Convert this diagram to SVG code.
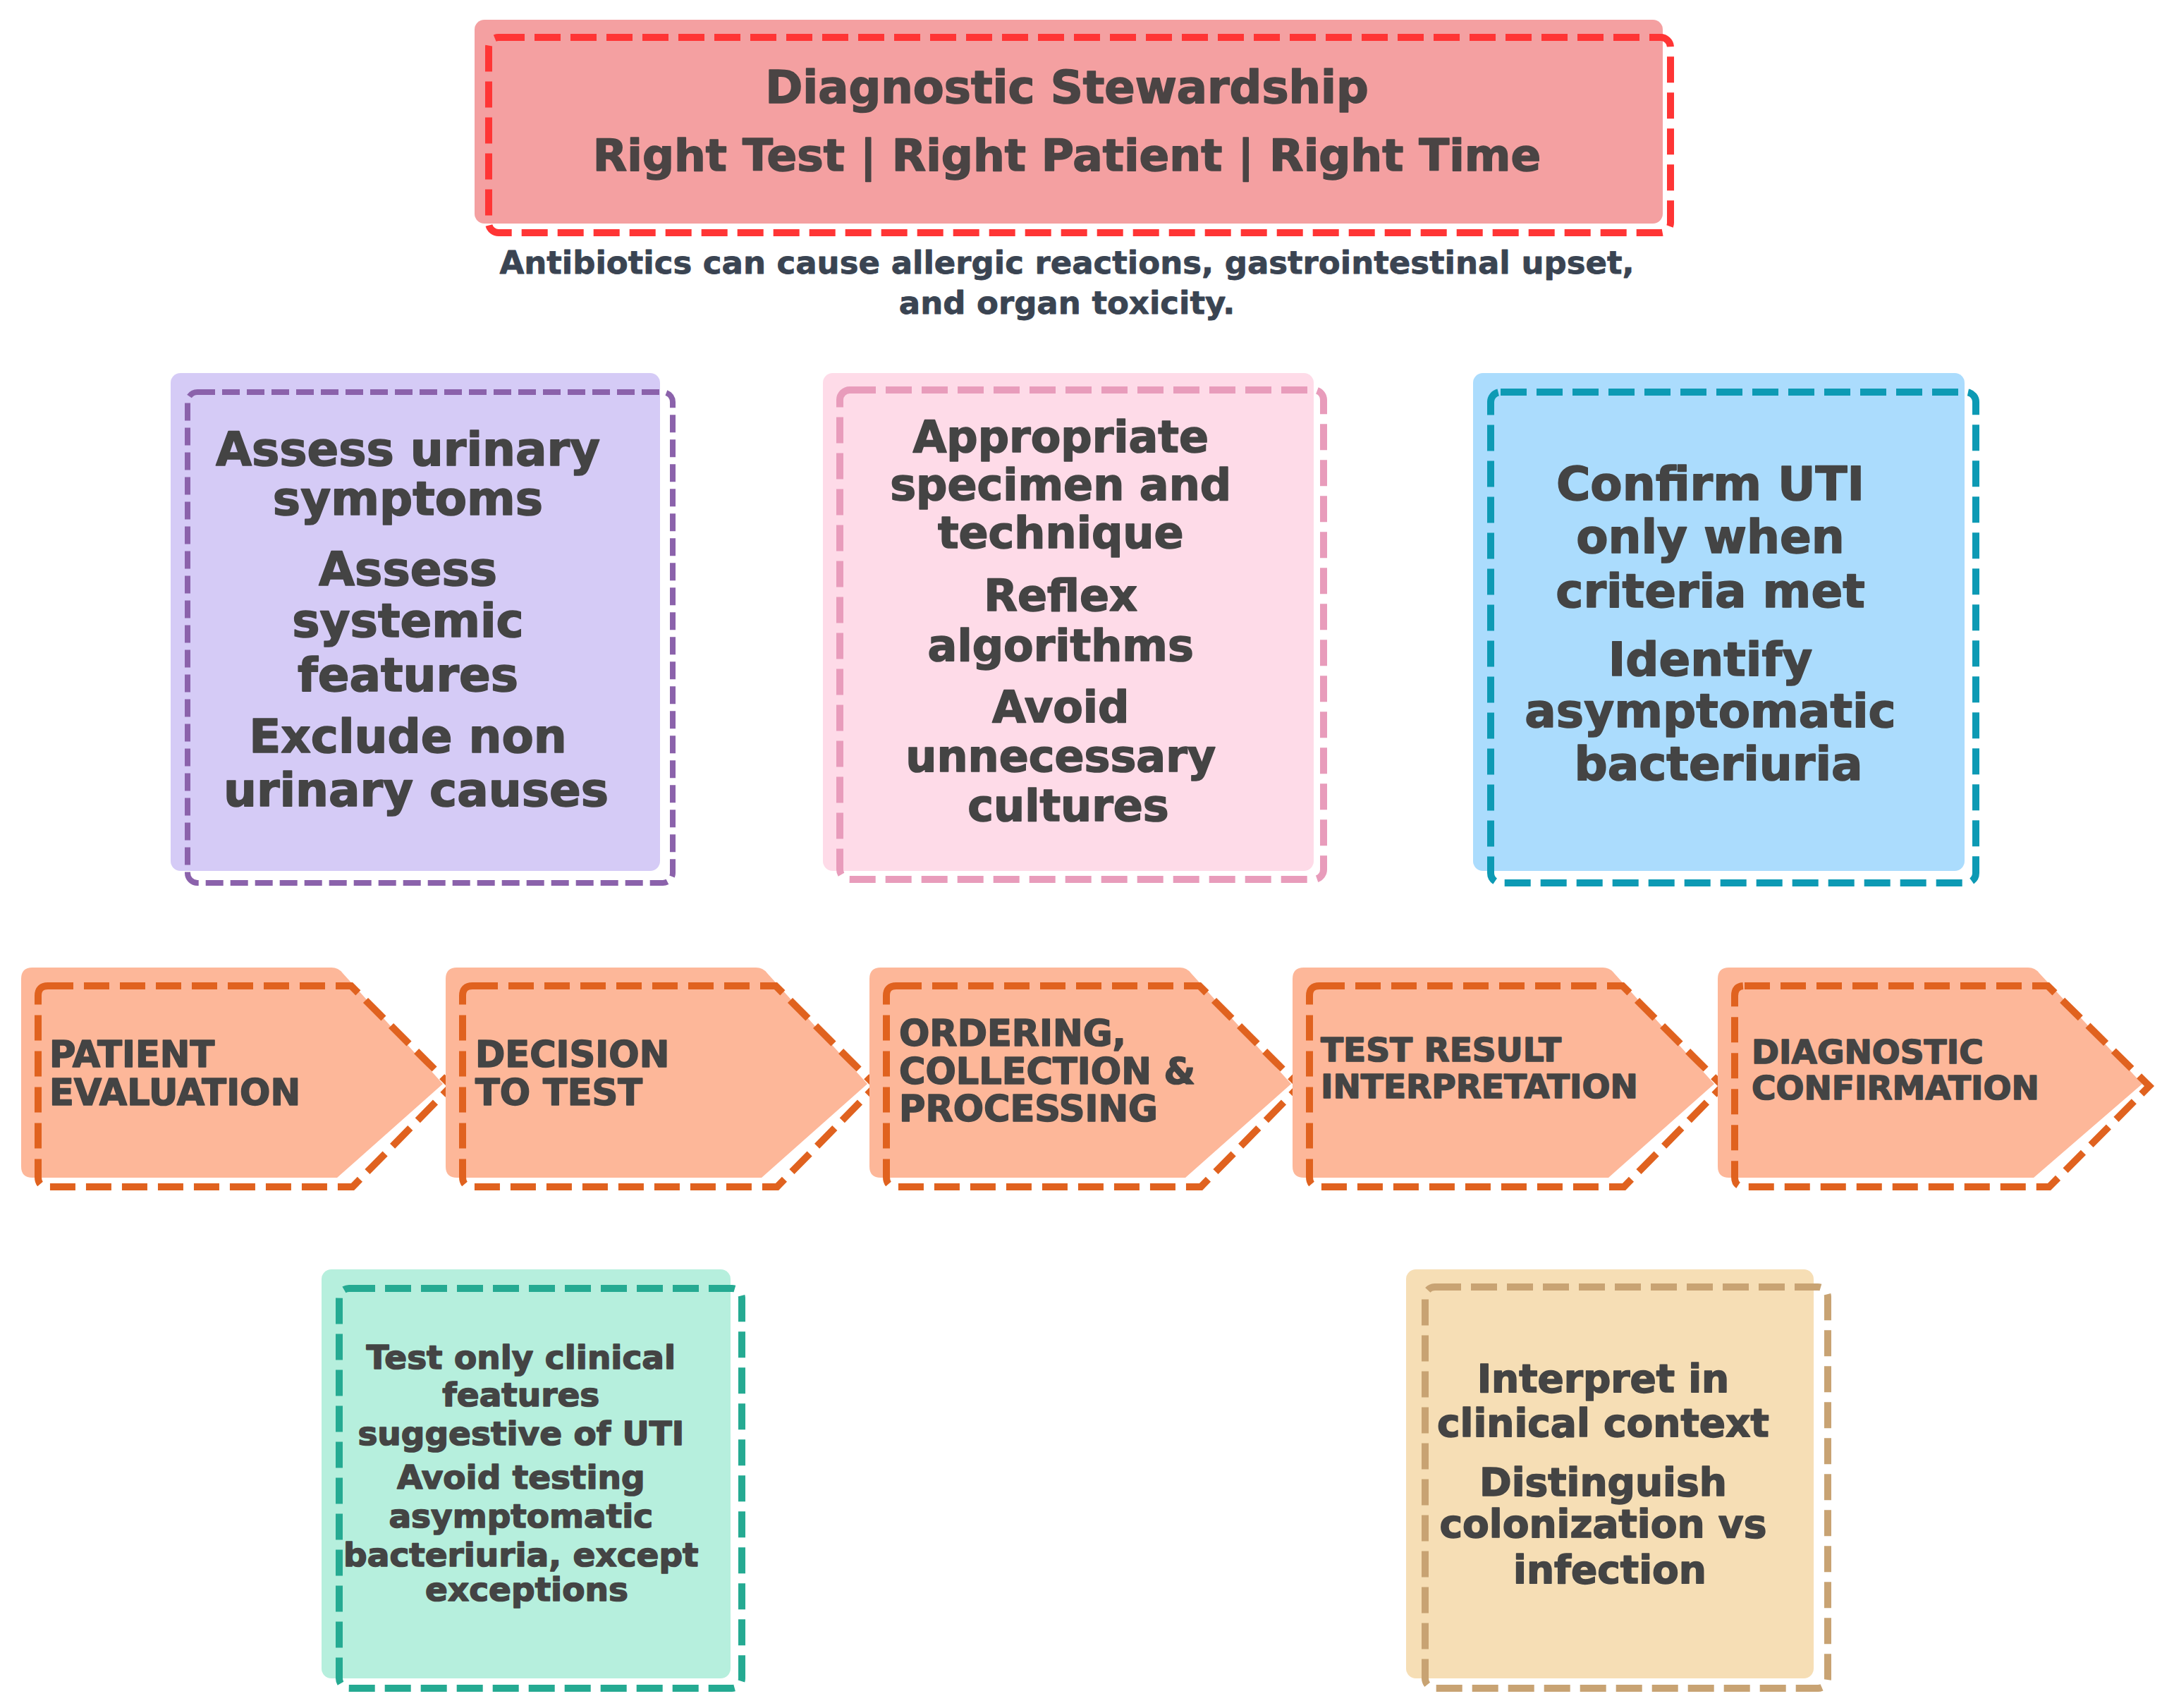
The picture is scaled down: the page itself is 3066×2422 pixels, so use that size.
<svg xmlns="http://www.w3.org/2000/svg" width="3066" height="2422" viewBox="0 0 3066 2422">
<style>
  .t { font-family: "DejaVu Sans", "Liberation Sans", sans-serif; font-weight: bold; fill: #444444; stroke: #444444; stroke-width: 1.6; stroke-linejoin: round; }
  .mid { text-anchor: middle; }
  .dash { fill: none; stroke-width: 10; stroke-dasharray: 37 14; }
  .chevFill { fill: #fdb799; }
  .chevDash { fill: none; stroke: #e0621f; stroke-width: 10; stroke-dasharray: 36 15; }
  .chevText { font-size: 51px; }
</style>
<rect width="3066" height="2422" fill="#ffffff"/>

<g id="title">
  <rect x="673" y="28" width="1685" height="289" rx="14" fill="#f4a0a1"/>
  <rect x="693" y="53" width="1676" height="277" rx="14" class="dash" stroke="#ff3535"/>
  <text class="t mid" x="1513" y="146" font-size="64" style="fill:#4a4444;stroke:#4a4444">Diagnostic Stewardship</text>
  <text class="t mid" x="1513" y="242" font-size="63" style="fill:#4a4444;stroke:#4a4444">Right Test | Right Patient | Right Time</text>
</g>

<g id="subtitle">
  <text class="t mid" x="1513" y="388" font-size="45" style="fill:#3a4452;stroke:#3a4452;stroke-width:0.8">Antibiotics can cause allergic reactions, gastrointestinal upset,</text>
  <text class="t mid" x="1513" y="445" font-size="45" style="fill:#3a4452;stroke:#3a4452;stroke-width:0.8">and organ toxicity.</text>
</g>

<g id="box-evaluation">
  <rect x="242" y="529" width="694" height="706" rx="14" fill="#d5cbf6"/>
  <rect x="266" y="556" width="688" height="696" rx="14" fill="none" stroke="#8b62ab" stroke-width="8" stroke-dasharray="25 10"/>
  <text class="t mid" font-size="66">
    <tspan x="590" y="660">Assess urinary</tspan>
    <tspan x="590" y="730">symptoms</tspan>
    <tspan x="590" y="830">Assess</tspan>
    <tspan x="590" y="903">systemic</tspan>
    <tspan x="590" y="980">features</tspan>
    <tspan x="590" y="1067">Exclude non</tspan>
    <tspan x="590" y="1143">urinary causes</tspan>
  </text>
</g>

<g id="box-ordering">
  <rect x="1167" y="529" width="696" height="706" rx="14" fill="#fedbe8"/>
  <rect x="1191" y="553" width="686" height="694" rx="14" class="dash" stroke="#e89cbb"/>
  <text class="t mid" font-size="62">
    <tspan x="1515" y="641">Appropriate</tspan>
    <tspan x="1515" y="709">specimen and</tspan>
    <tspan x="1515" y="777">technique</tspan>
    <tspan x="1515" y="866">Reflex</tspan>
    <tspan x="1515" y="937">algorithms</tspan>
    <tspan x="1515" y="1024">Avoid</tspan>
    <tspan x="1515" y="1094">unnecessary</tspan>
    <tspan x="1515" y="1164">cultures</tspan>
  </text>
</g>

<g id="box-confirmation">
  <rect x="2089" y="529" width="697" height="706" rx="14" fill="#abdcfd"/>
  <rect x="2114" y="556" width="688" height="696" rx="14" class="dash" stroke="#0d9ab4"/>
  <text class="t mid" font-size="66">
    <tspan x="2437" y="709">Confirm UTI</tspan>
    <tspan x="2437" y="784">only when</tspan>
    <tspan x="2437" y="861">criteria met</tspan>
    <tspan x="2437" y="958">Identify</tspan>
    <tspan x="2437" y="1031">asymptomatic</tspan>
    <tspan x="2437" y="1106">bacteriuria</tspan>
  </text>
</g>

<g id="step-patient-evaluation" transform="translate(30,0)">
  <path class="chevFill" d="M16,1372 H440 Q450,1372 456,1380 L598,1537 L448,1670 H16 Q0,1670 0,1654 V1388 Q0,1372 16,1372 Z"/>
  <path class="chevDash" d="M38,1398 H468 L610,1540 L470,1683 H38 Q24,1683 24,1669 V1412 Q24,1398 38,1398 Z"/>
  <text class="t chevText"><tspan x="40" y="1513">PATIENT</tspan><tspan x="40" y="1567">EVALUATION</tspan></text>
</g>

<g id="step-decision-to-test" transform="translate(632,0)">
  <path class="chevFill" d="M16,1372 H440 Q450,1372 456,1380 L598,1537 L448,1670 H16 Q0,1670 0,1654 V1388 Q0,1372 16,1372 Z"/>
  <path class="chevDash" d="M38,1398 H468 L610,1540 L470,1683 H38 Q24,1683 24,1669 V1412 Q24,1398 38,1398 Z"/>
  <text class="t chevText"><tspan x="42" y="1513">DECISION</tspan><tspan x="42" y="1567">TO TEST</tspan></text>
</g>

<g id="step-ordering" transform="translate(1233,0)">
  <path class="chevFill" d="M16,1372 H440 Q450,1372 456,1380 L598,1537 L448,1670 H16 Q0,1670 0,1654 V1388 Q0,1372 16,1372 Z"/>
  <path class="chevDash" d="M38,1398 H468 L610,1540 L470,1683 H38 Q24,1683 24,1669 V1412 Q24,1398 38,1398 Z"/>
  <text class="t chevText"><tspan x="42" y="1483">ORDERING,</tspan><tspan x="42" y="1537">COLLECTION &amp;</tspan><tspan x="42" y="1590">PROCESSING</tspan></text>
</g>

<g id="step-interpretation" transform="translate(1833,0)">
  <path class="chevFill" d="M16,1372 H440 Q450,1372 456,1380 L598,1537 L448,1670 H16 Q0,1670 0,1654 V1388 Q0,1372 16,1372 Z"/>
  <path class="chevDash" d="M38,1398 H468 L610,1540 L470,1683 H38 Q24,1683 24,1669 V1412 Q24,1398 38,1398 Z"/>
  <text class="t" font-size="47"><tspan x="40" y="1505">TEST RESULT</tspan><tspan x="40" y="1557">INTERPRETATION</tspan></text>
</g>

<g id="step-diagnostic-confirmation" transform="translate(2436,0)">
  <path class="chevFill" d="M16,1372 H440 Q450,1372 456,1380 L602,1537 L448,1670 H16 Q0,1670 0,1654 V1388 Q0,1372 16,1372 Z"/>
  <path class="chevDash" d="M38,1398 H468 L612,1540 L470,1683 H38 Q24,1683 24,1669 V1412 Q24,1398 38,1398 Z"/>
  <text class="t" font-size="47"><tspan x="48" y="1508">DIAGNOSTIC</tspan><tspan x="48" y="1559">CONFIRMATION</tspan></text>
</g>

<g id="box-decision">
  <rect x="456" y="1800" width="580" height="580" rx="14" fill="#b6efdd"/>
  <rect x="481" y="1827" width="571" height="567" rx="14" class="dash" stroke="#25aa92"/>
  <text class="t mid" font-size="47">
    <tspan x="747" y="1941">Test only clinical</tspan>
    <tspan x="747" y="1994">features</tspan>
    <tspan x="747" y="2049">suggestive of UTI</tspan>
    <tspan x="747" y="2111">Avoid testing</tspan>
    <tspan x="747" y="2166">asymptomatic</tspan>
    <tspan x="747" y="2221">bacteriuria, except</tspan>
    <tspan x="747" y="2270">exceptions</tspan>
  </text>
</g>

<g id="box-interpretation">
  <rect x="1994" y="1800" width="578" height="580" rx="14" fill="#f6deb5"/>
  <rect x="2021" y="1825" width="571" height="569" rx="14" class="dash" stroke="#c8a373"/>
  <text class="t mid" font-size="55">
    <tspan x="2283" y="1974">Interpret in</tspan>
    <tspan x="2283" y="2037">clinical context</tspan>
    <tspan x="2283" y="2121">Distinguish</tspan>
    <tspan x="2283" y="2180">colonization vs</tspan>
    <tspan x="2283" y="2245">infection</tspan>
  </text>
</g>

<g id="connectors"></g>
</svg>
